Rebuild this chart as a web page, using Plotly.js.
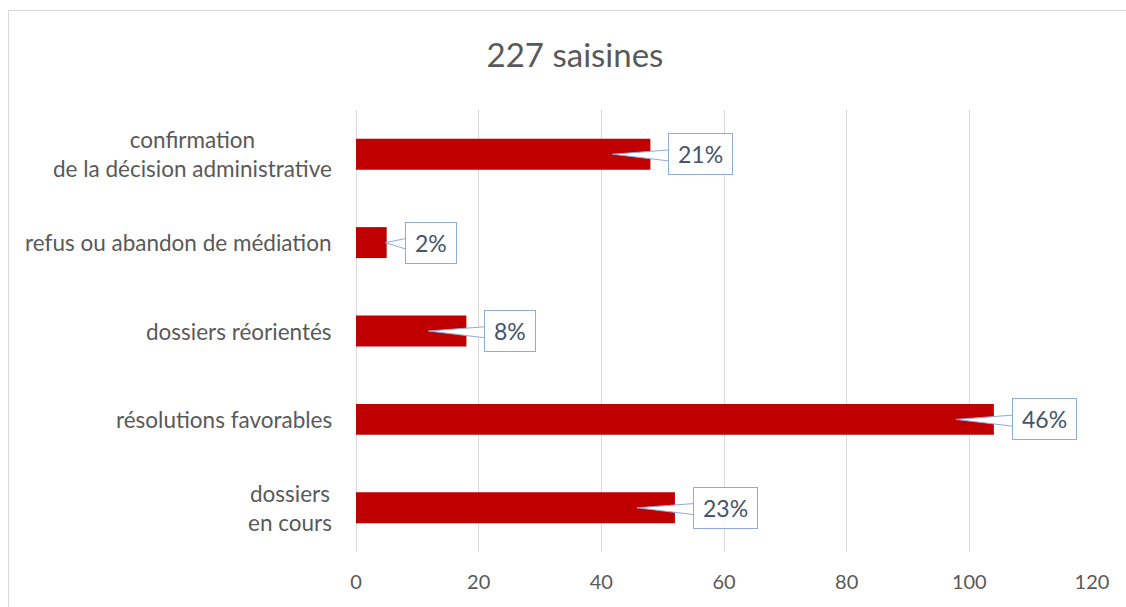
<!DOCTYPE html>
<html>
<head>
<meta charset="utf-8">
<script src="https://cdn.plot.ly/plotly-3.0.1.min.js"></script>
<style>
html,body{margin:0;padding:0;background:#fff;overflow:hidden;}
#chart{width:1126px;height:607px;}
#frame{position:absolute;left:8px;top:10px;width:1130px;height:640px;border:1px solid #d9d9d9;pointer-events:none;box-sizing:border-box;}
</style>
</head>
<body>
<div id="chart"></div>
<div id="frame"></div>
<script>
// Data (bottom to top)
const categories = [
  "dossiers<br>en cours",
  "résolutions favorables",
  "dossiers réorientés",
  "refus ou abandon de médiation",
  "confirmation<br>de la décision administrative"
];
const values = [52, 104, 18, 5, 48];
const percentLabels = ["23%", "46%", "8%", "2%", "21%"];
const xTicks = [0, 20, 40, 60, 80, 100, 120];
const chartTitle = "227 saisines";

const FONT = "Lato, 'Open Sans', sans-serif";
const plotLeft = 356, plotRight = 1092;
const xMax = 120;
const pxPerUnit = (plotRight - plotLeft) / xMax;
const idx = categories.map((_, i) => i);

const trace = {
  type: 'bar',
  orientation: 'h',
  y: idx,
  x: values,
  width: 0.35,
  marker: {color: '#c00000', line: {width: 0}},
  hoverinfo: 'skip'
};

const annotations = [];
const shapes = [];

// category labels
categories.forEach((c, i) => {
  annotations.push({
    xref: 'paper', yref: 'y', x: 0, y: i,
    xanchor: 'right', yanchor: 'middle', xshift: -22,
    text: c, align: 'center', showarrow: false,
    font: {family: FONT, size: 22.5, color: '#595959'}
  });
});

// callouts
values.forEach((v, i) => {
  const boxShift = 18; // px gap from bar end to box
  const boxLeft = v + boxShift / pxPerUnit;
  const tip = v < 10 ? v - 0.2 : v - 38 / pxPerUnit;
  const inside = boxLeft + 3 / pxPerUnit;
  shapes.push({
    type: 'path', xref: 'x', yref: 'y', layer: 'above',
    path: `M ${tip} ${i} L ${inside} ${i + 0.05} L ${inside} ${i - 0.08} Z`,
    fillcolor: '#ffffff',
    line: {color: '#8faadc', width: 1}
  });
  annotations.push({
    xref: 'x', yref: 'y', x: v, y: i,
    xanchor: 'left', yanchor: 'middle', xshift: boxShift,
    text: percentLabels[i], showarrow: false, height: 22,
    bgcolor: '#ffffff', bordercolor: '#8faadc', borderwidth: 1, borderpad: 9,
    font: {family: FONT, size: 23, color: '#44546a'}
  });
});

const layout = {
  width: 1126, height: 607,
  margin: {l: plotLeft, r: 1126 - plotRight, t: 110, b: 55, pad: 0},
  paper_bgcolor: '#ffffff', plot_bgcolor: '#ffffff',
  showlegend: false,
  title: {
    text: chartTitle, x: 575 / 1126, xanchor: 'center', xref: 'container',
    y: 1 - 55 / 607, yanchor: 'middle', yref: 'container',
    font: {family: FONT, size: 33, color: '#595959'}
  },
  xaxis: {
    range: [0, xMax], tickvals: xTicks, ticktext: xTicks.map(String),
    showgrid: true, gridcolor: '#d9d9d9', gridwidth: 1,
    zeroline: true, zerolinecolor: '#d9d9d9', zerolinewidth: 1,
    showline: false, ticks: '', ticklabelstandoff: 16,
    tickfont: {family: FONT, size: 20, color: '#595959'},
    fixedrange: true
  },
  yaxis: {
    range: [-0.5, 4.5], showticklabels: false, showgrid: false,
    zeroline: false, showline: false, ticks: '', fixedrange: true
  },
  annotations: annotations,
  shapes: shapes
};

Plotly.newPlot('chart', [trace], layout, {displayModeBar: false, staticPlot: true});
</script>
</body>
</html>
